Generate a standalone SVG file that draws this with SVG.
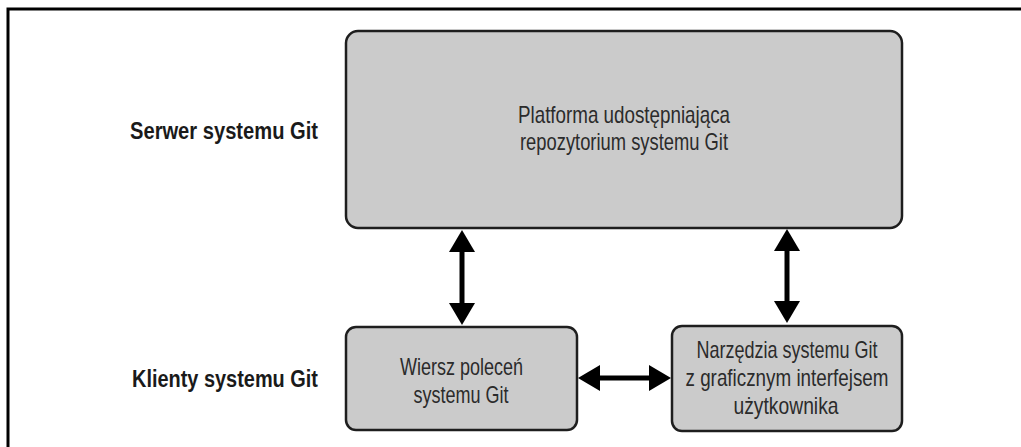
<svg xmlns="http://www.w3.org/2000/svg" width="1021" height="447" viewBox="0 0 1021 447">
  <style>
    .box { fill: #cbcbcb; stroke: #1e1e1e; stroke-width: 2.5; }
    .t { font-family: "Liberation Sans", Arial, sans-serif; font-size: 24px; fill: #2b2b2b; text-anchor: middle; }
    .lbl { font-family: "Liberation Sans", Arial, sans-serif; font-size: 23px; font-weight: bold; fill: #1a1a1a; }
    .conn { stroke: #000; stroke-width: 5; fill: none; marker-start: url(#ah); marker-end: url(#ah); }
  </style>
  <defs>
    <marker id="ah" viewBox="0 0 22 26" refX="2" refY="13" markerWidth="22" markerHeight="26" markerUnits="userSpaceOnUse" orient="auto-start-reverse">
      <path d="M0,0 L22,13 L0,26 Z" fill="#000"/>
    </marker>
  </defs>
  <rect width="1021" height="447" fill="#fff"/>
  <path d="M8,447 V9 H1021" fill="none" stroke="#000" stroke-width="3"/>

  <g id="label-server">
    <text class="lbl" x="130" y="139" textLength="188" lengthAdjust="spacingAndGlyphs">Serwer systemu Git</text>
  </g>
  <g id="label-clients">
    <text class="lbl" x="132" y="387" textLength="186" lengthAdjust="spacingAndGlyphs">Klienty systemu Git</text>
  </g>

  <g id="node-platform">
    <rect class="box" x="346" y="31" width="556" height="197" rx="12"/>
    <text class="t" x="624" y="123" textLength="212" lengthAdjust="spacingAndGlyphs">Platforma udostępniająca</text>
    <text class="t" x="624" y="150" textLength="208" lengthAdjust="spacingAndGlyphs">repozytorium systemu Git</text>
  </g>

  <g id="node-cli">
    <rect class="box" x="346" y="327" width="231" height="103" rx="10"/>
    <text class="t" x="461.5" y="375" textLength="123" lengthAdjust="spacingAndGlyphs">Wiersz poleceń</text>
    <text class="t" x="461" y="403" textLength="95" lengthAdjust="spacingAndGlyphs">systemu Git</text>
  </g>

  <g id="node-gui">
    <rect class="box" x="672" y="326" width="230" height="105" rx="10"/>
    <text class="t" x="787" y="358" textLength="181" lengthAdjust="spacingAndGlyphs">Narzędzia systemu Git</text>
    <text class="t" x="787" y="386" textLength="203" lengthAdjust="spacingAndGlyphs">z graficznym interfejsem</text>
    <text class="t" x="786" y="414" textLength="105" lengthAdjust="spacingAndGlyphs">użytkownika</text>
  </g>

  <g id="connectors">
    <path class="conn" d="M462,250 V305"/>
    <path class="conn" d="M787,249 V303"/>
    <path class="conn" d="M598,378 H651"/>
  </g>
</svg>
